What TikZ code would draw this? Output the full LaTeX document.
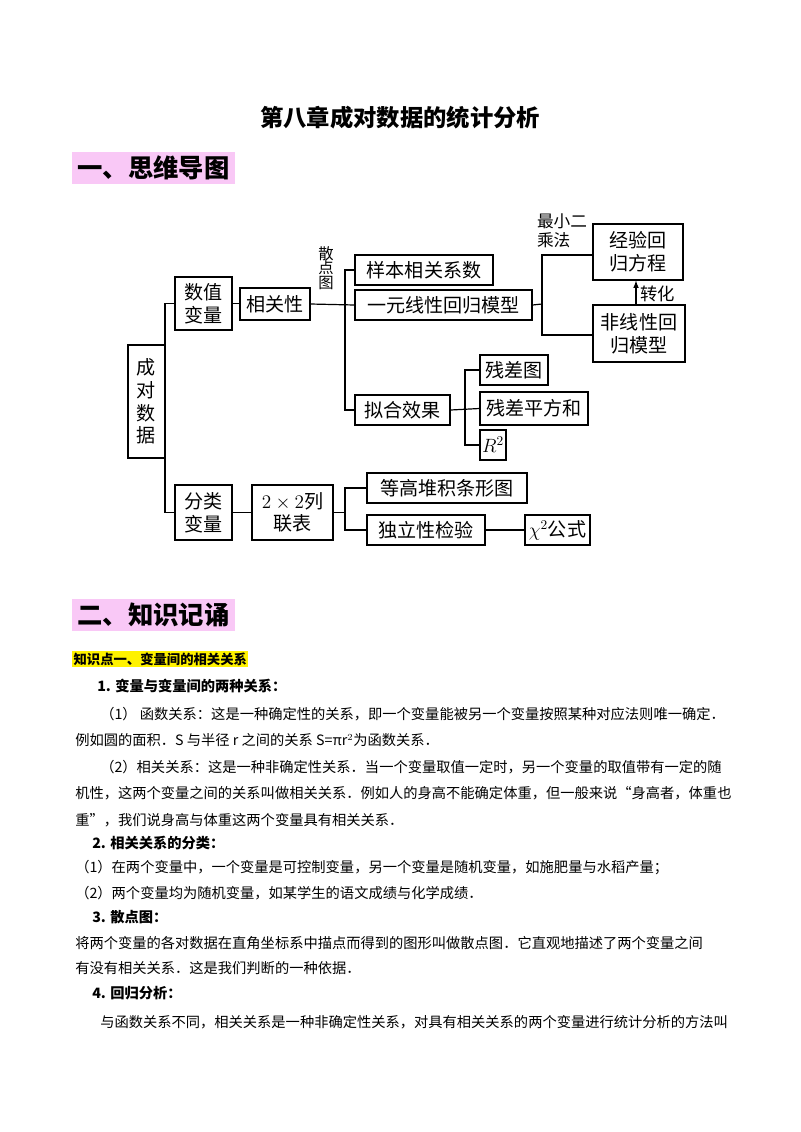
\documentclass[tikz,border=0pt]{standalone}
\usepackage{fontspec}
\setmainfont{Noto Sans CJK SC}
\usetikzlibrary{fit}
\definecolor{hpink}{HTML}{F9C8F6}
\tikzset{
 x=0.75pt,y=-0.75pt,
 bx/.style={draw,line width=0.9pt,inner sep=0pt},
 lb/.style={font=\fontsize{14.3pt}{17pt}\selectfont,align=center},
 ln/.style={line width=0.9pt},
 body/.style={anchor=west,inner sep=0pt,font=\fontsize{10.7pt}{12pt}\selectfont},
 bhead/.style={anchor=west,inner sep=0pt,font=\fontsize{10.7pt}{12pt}\selectfont\bfseries},
}
\begin{document}
\begin{tikzpicture}
\useasboundingbox (0,0) rectangle (800,1132);
\fill[white] (0,0) rectangle (800,1132);
% title
\node[font=\fontsize{17.5pt}{19pt}\selectfont\bfseries] (title) at (400,118) {第八章成对数据的统计分析};
\node[fill=hpink,anchor=west,inner xsep=4pt,inner ysep=3pt,font=\fontsize{19pt}{21pt}\selectfont\bfseries] (h1) at (72,168) {一、思维导图};
% mind map
\node[bx,fit={(128,345)(165,458)},label={[lb]center:成\\对\\数\\据}] (root) {};
\node[bx,fit={(175,277)(232,330)},label={[lb]center:数值\\变量}] (num) {};
\node[bx,fit={(240,288)(310,320)},label={[lb]center:相关性}] (corr) {};
\node[align=center,inner sep=0pt,font=\fontsize{11.5pt}{11pt}\selectfont] (sdt) at (326,268) {散\\点\\图};
\node[bx,fit={(355,255)(493,285)},label={[lb]center:样本相关系数}] (sample) {};
\node[bx,fit={(355,290)(532,320)},label={[lb]center:一元线性回归模型}] (lin) {};
\node[align=left,inner sep=0pt,font=\fontsize{12.5pt}{14pt}\selectfont] (lsq) at (562,231) {最小二\\乘法};
\node[bx,fit={(593,224)(683,280)},label={[lb]center:经验回\\归方程}] (emp) {};
\node[bx,fit={(593,305)(685,362)},label={[lb]center:非线性回\\归模型}] (nonlin) {};
\node[anchor=west,inner sep=0pt,font=\fontsize{13pt}{14pt}\selectfont] (zh) at (640,294) {转化};
\node[bx,fit={(355,395)(450,425)},label={[lb]center:拟合效果}] (fit) {};
\node[bx,fit={(480,355)(548,385)},label={[lb]center:残差图}] (res) {};
\node[bx,fit={(480,392)(588,425)},label={[lb]center:残差平方和}] (ssr) {};
\node[bx,fit={(480,430)(506,460)},label={[lb]center:$R^2$}] (r2) {};
\node[bx,fit={(175,485)(232,540)},label={[lb]center:分类\\变量}] (cat) {};
\node[bx,fit={(252,485)(333,540)},label={[lb]center:$2\times2$列\\联表}] (tab) {};
\node[bx,fit={(367,473)(527,503)},label={[lb]center:等高堆积条形图}] (bar) {};
\node[bx,fit={(367,515)(485,545)},label={[lb]center:独立性检验}] (ind) {};
\node[bx,fit={(525,515)(590,545)},label={[lb]center:$\chi^2$公式}] (chi) {};
\coordinate (j0) at (165,400);
\coordinate (j1) at (345,304);
\coordinate (j2) at (542,304);
\coordinate (j3) at (465,410);
\coordinate (j4) at (345,512);
\draw[ln] (num.west) -| (j0) |- (cat.west);
\draw[ln] (root.east) -- (root.east -| j0);
\draw[ln] (num.east) -- (num.east -| corr.west);
\draw[ln] (corr.east) -- (lin.west);
\draw[ln] (sample.west) -| (j1) |- (fit.west);
\draw[ln] (lin.east) -- (j2);
\draw[ln] (emp.west |- 0,255) -| (j2) |- (nonlin.west |- 0,335);
\draw[ln,-latex] (nonlin.north -| 636,0) -- (emp.south -| 636,0);
\draw[ln] (fit.east) -- (ssr.west);
\draw[ln] (res.west) -| (j3) |- (r2.west);
\draw[ln] (cat.east) -- (tab.west);
\draw[ln] (bar.west) -| (j4) |- (ind.west);
\draw[ln] (tab.east) -- (tab.east -| j4);
\draw[ln] (ind.east) -- (chi.west);
% section 2
\node[fill=hpink,anchor=west,inner xsep=4pt,inner ysep=3pt,font=\fontsize{19pt}{21pt}\selectfont\bfseries] (h2) at (72,615) {二、知识记诵};
\node[fill=yellow,anchor=west,inner xsep=1pt,inner ysep=1.5pt,font=\fontsize{10pt}{12pt}\selectfont\bfseries] (k1) at (72,659) {知识点一、变量间的相关关系};
\node[bhead] (t1) at (97,686) {1. 变量与变量间的两种关系：};
\node[body] (t2) at (100,714) {（1）\ 函数关系：这是一种确定性的关系，即一个变量能被另一个变量按照某种对应法则唯一确定．};
\node[body] (t3) at (75,740) {例如圆的面积．S 与半径 r 之间的关系 S=πr$^2$为函数关系．};
\node[body] (t4) at (100,767) {（2）相关关系：这是一种非确定性关系．当一个变量取值一定时，另一个变量的取值带有一定的随};
\node[body] (t5) at (75,793) {机性，这两个变量之间的关系叫做相关关系．例如人的身高不能确定体重，但一般来说“身高者，体重也};
\node[body] (t6) at (75,820) {重”，我们说身高与体重这两个变量具有相关关系．};
\node[bhead] (t7) at (92,843) {2. 相关关系的分类：};
\node[body] (t8) at (75,868) {（1）在两个变量中，一个变量是可控制变量，另一个变量是随机变量，如施肥量与水稻产量；};
\node[body] (t9) at (75,893) {（2）两个变量均为随机变量，如某学生的语文成绩与化学成绩．};
\node[bhead] (t10) at (92,917) {3. 散点图：};
\node[body] (t11) at (75,943) {将两个变量的各对数据在直角坐标系中描点而得到的图形叫做散点图．它直观地描述了两个变量之间};
\node[body] (t12) at (75,968) {有没有相关关系．这是我们判断的一种依据．};
\node[bhead] (t13) at (92,993) {4. 回归分析：};
\node[body] (t14) at (100,1022) {与函数关系不同，相关关系是一种非确定性关系，对具有相关关系的两个变量进行统计分析的方法叫};
\end{tikzpicture}
\end{document}
